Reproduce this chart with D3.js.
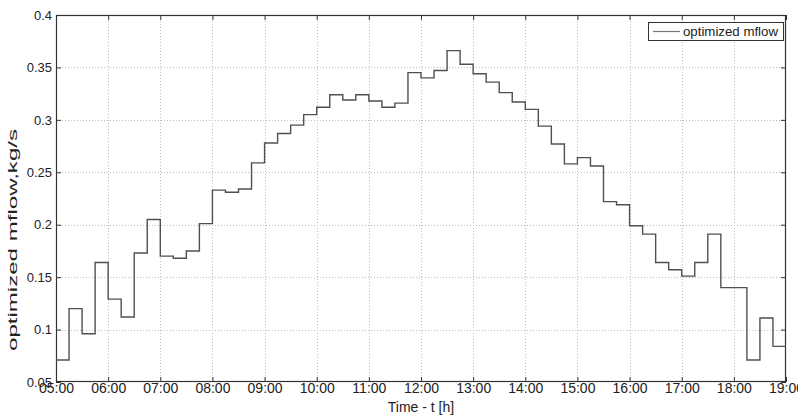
<!DOCTYPE html>
<html>
<head>
<meta charset="utf-8">
<script src="https://cdn.jsdelivr.net/npm/d3@7"></script>
<style>
  html, body { margin: 0; padding: 0; background: #fff; }
  svg { display: block; font-family: Arial, "Liberation Sans", sans-serif; }
</style>
</head>
<body>
<svg id="chart" width="798" height="417"></svg>
<script>
// ---- data ----
const slotStart = [
  "05:00","05:15","05:30","05:45","06:00","06:15","06:30","06:45",
  "07:00","07:15","07:30","07:45","08:00","08:15","08:30","08:45",
  "09:00","09:15","09:30","09:45","10:00","10:15","10:30","10:45",
  "11:00","11:15","11:30","11:45","12:00","12:15","12:30","12:45",
  "13:00","13:15","13:30","13:45","14:00","14:15","14:30","14:45",
  "15:00","15:15","15:30","15:45","16:00","16:15","16:30","16:45",
  "17:00","17:15","17:30","17:45","18:00","18:15","18:30","18:45"
];
const endTime = "19:00";
const mflow = [
  0.071, 0.120, 0.096, 0.164, 0.129, 0.112, 0.173, 0.205,
  0.170, 0.168, 0.175, 0.201, 0.233, 0.231, 0.234, 0.259,
  0.278, 0.287, 0.295, 0.305, 0.312, 0.324, 0.319, 0.324,
  0.318, 0.312, 0.316, 0.345, 0.340, 0.347, 0.366, 0.353,
  0.344, 0.336, 0.326, 0.317, 0.310, 0.294, 0.277, 0.258,
  0.264, 0.256, 0.222, 0.219, 0.199, 0.191, 0.164, 0.157,
  0.151, 0.164, 0.191, 0.140, 0.140, 0.071, 0.111, 0.084
];
const xTickLabels = ["05:00","06:00","07:00","08:00","09:00","10:00","11:00","12:00","13:00","14:00","15:00","16:00","17:00","18:00","19:00"];
const yTicks = [0.05, 0.1, 0.15, 0.2, 0.25, 0.3, 0.35, 0.4];
const yTickLabels = ["0.05","0.1","0.15","0.2","0.25","0.3","0.35","0.4"];
const seriesName = "optimized mflow";
const xTitle = "Time - t [h]";
const yTitle = "optimized mflow,kg/s";

// ---- layout ----
const L = 56, R = 786, T = 15, B = 382;
const toHours = s => { const [h, m] = s.split(":").map(Number); return h + m / 60; };

const svg = d3.select("#chart");
const x = d3.scaleLinear().domain([toHours(xTickLabels[0]), toHours(xTickLabels[xTickLabels.length - 1])]).range([L, R]);
const y = d3.scaleLinear().domain([0.05, 0.4]).range([B, T]);

// grid
const grid = svg.append("g").attr("stroke", "#bdbdbd").attr("stroke-width", 1).attr("stroke-dasharray", "1,2");
xTickLabels.slice(1, -1).forEach(t => {
  grid.append("line").attr("x1", Math.round(x(toHours(t))) + 0.5).attr("x2", Math.round(x(toHours(t))) + 0.5)
    .attr("y1", T).attr("y2", B);
});
yTicks.slice(1, -1).forEach(v => {
  grid.append("line").attr("y1", Math.round(y(v)) + 0.5).attr("y2", Math.round(y(v)) + 0.5)
    .attr("x1", L).attr("x2", R);
});

// axes (ticks inward, mirrored)
const xAxisB = d3.axisBottom(x).tickValues(xTickLabels.map(toHours)).tickSizeInner(-5).tickSizeOuter(0).tickPadding(1)
  .tickFormat((d, i) => xTickLabels[i]);
const xAxisT = d3.axisTop(x).tickValues(xTickLabels.map(toHours)).tickSizeInner(-5).tickSizeOuter(0).tickFormat("");
const yAxisL = d3.axisLeft(y).tickValues(yTicks).tickSizeInner(-5).tickSizeOuter(0).tickPadding(4)
  .tickFormat((d, i) => yTickLabels[i]);
const yAxisR = d3.axisRight(y).tickValues(yTicks).tickSizeInner(-5).tickSizeOuter(0).tickFormat("");

function styleAxis(g) {
  g.select(".domain").remove();
  g.selectAll(".tick line").attr("stroke", "#333");
  g.selectAll(".tick text").attr("fill", "#222").attr("font-size", 13);
}
svg.append("g").attr("transform", `translate(0,${B})`).call(xAxisB).call(styleAxis)
  .selectAll(".tick text").attr("font-size", 14);
svg.append("g").attr("transform", `translate(0,${T})`).call(xAxisT).call(styleAxis);
svg.append("g").attr("transform", `translate(${L},0)`).call(yAxisL).call(styleAxis);
svg.append("g").attr("transform", `translate(${R},0)`).call(yAxisR).call(styleAxis);

// frame
svg.append("rect").attr("x", L + 0.5).attr("y", T + 0.5).attr("width", R - L - 1).attr("height", B - T - 1)
  .attr("fill", "none").attr("stroke", "#333").attr("stroke-width", 1.2);

// step line
const pts = slotStart.map((t, i) => [toHours(t), mflow[i]]);
pts.push([toHours(endTime), mflow[mflow.length - 1]]);
const line = d3.line().x(d => x(d[0])).y(d => y(d[1])).curve(d3.curveStepAfter);
svg.append("path").datum(pts).attr("d", line).attr("fill", "none")
  .attr("stroke", "#505050").attr("stroke-width", 1.4);

// axis titles
svg.append("text").attr("x", (L + R) / 2).attr("y", 412).attr("text-anchor", "middle")
  .attr("font-size", 14).attr("fill", "#222").text(xTitle);
svg.append("text").attr("transform", `translate(17,${240}) rotate(-90)`).attr("text-anchor", "middle")
  .attr("font-size", 13).attr("fill", "#222")
  .attr("textLength", 222).attr("lengthAdjust", "spacingAndGlyphs").text(yTitle);

// legend
const lg = svg.append("g");
lg.append("rect").attr("x", 648.5).attr("y", 22.5).attr("width", 135).attr("height", 18)
  .attr("fill", "#fff").attr("stroke", "#333").attr("stroke-width", 1);
lg.append("line").attr("x1", 653).attr("x2", 680).attr("y1", 31.5).attr("y2", 31.5)
  .attr("stroke", "#777").attr("stroke-width", 1.2);
lg.append("text").attr("x", 683).attr("y", 36).attr("font-size", 13).attr("fill", "#222")
  .attr("textLength", 95).attr("lengthAdjust", "spacingAndGlyphs").text(seriesName);
</script>
</body>
</html>
